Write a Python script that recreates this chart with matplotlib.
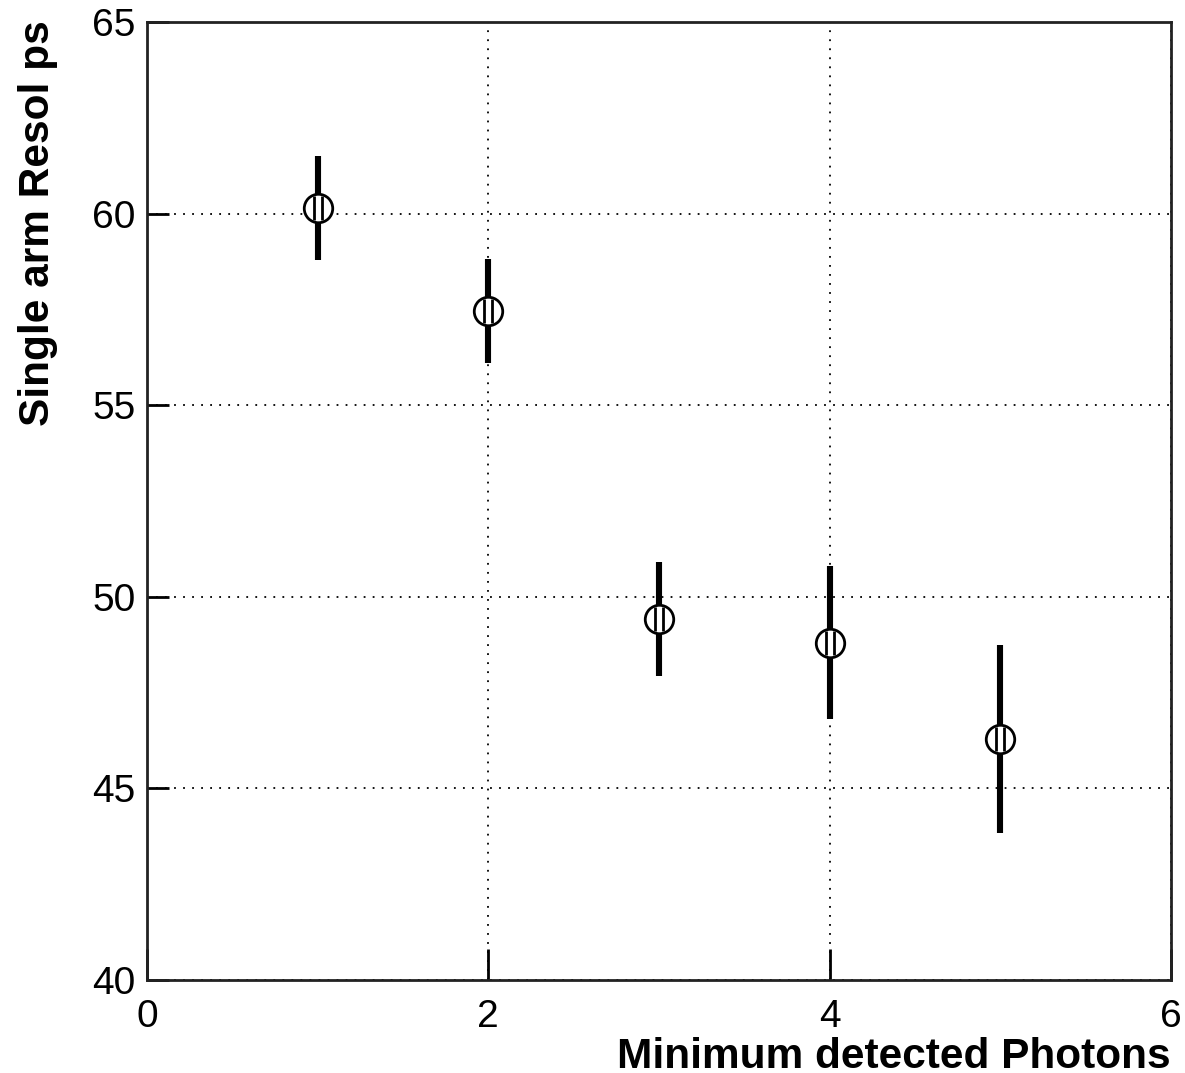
import matplotlib.pyplot as plt
import numpy as np
from matplotlib.path import Path

plt.rcParams['font.family'] = ['Liberation Sans', 'DejaVu Sans']

# data
photons = [1, 2, 3, 4, 5]
resol = [60.15, 57.46, 49.42, 48.80, 46.29]
resol_err = [1.35, 1.36, 1.50, 2.00, 2.45]

x_ticks = [0, 2, 4, 6]
y_ticks = [40, 45, 50, 55, 60, 65]

fig = plt.figure(figsize=(11.85, 10.73), dpi=100)
ax = fig.add_axes([0.124, 0.0867, 0.8642, 0.8928])

ax.errorbar(photons, resol, yerr=resol_err, fmt='none', ecolor='black',
            elinewidth=4.4, capsize=0, zorder=3)
ax.plot(photons, resol, 'o', ms=20.5, mfc='white', mec='black', mew=2.0, zorder=4)

# two vertical strokes inside the circle, like the ROOT marker
bars = Path([(-0.3, -0.85), (-0.3, 0.85), (0.3, -0.85), (0.3, 0.85)],
            [Path.MOVETO, Path.LINETO, Path.MOVETO, Path.LINETO])
ax.plot(photons, resol, ls='none', marker=bars, ms=17, mec='black', mew=2.0,
        zorder=5)

ax.set_xlim(0, 6)
ax.set_ylim(40, 65)
ax.set_xticks(x_ticks)
ax.set_yticks(y_ticks)
ax.grid(True, color='black', linestyle=(0, (1, 4)), linewidth=1.3)
ax.set_axisbelow(True)

ax.tick_params(axis='both', direction='in', width=2, labelsize=28,
               colors='black')
ax.tick_params(axis='x', length=22, pad=14)
ax.tick_params(axis='y', length=16, pad=8)
for s in ax.spines.values():
    s.set_linewidth(2)
    s.set_color('#222222')

ax.set_xlabel('Minimum detected Photons', fontsize=30.5, fontweight='bold',
              loc='right')
ax.xaxis.label.set_va('baseline')
ax.xaxis.set_label_coords(1.0, -88 / 958)

ax.set_ylabel('Single arm Resol ps', fontsize=30.5, fontweight='bold',
              loc='top')
ax.yaxis.set_label_coords(-89 / 1024, 1.002)

fig.savefig('out.png', dpi=100)
